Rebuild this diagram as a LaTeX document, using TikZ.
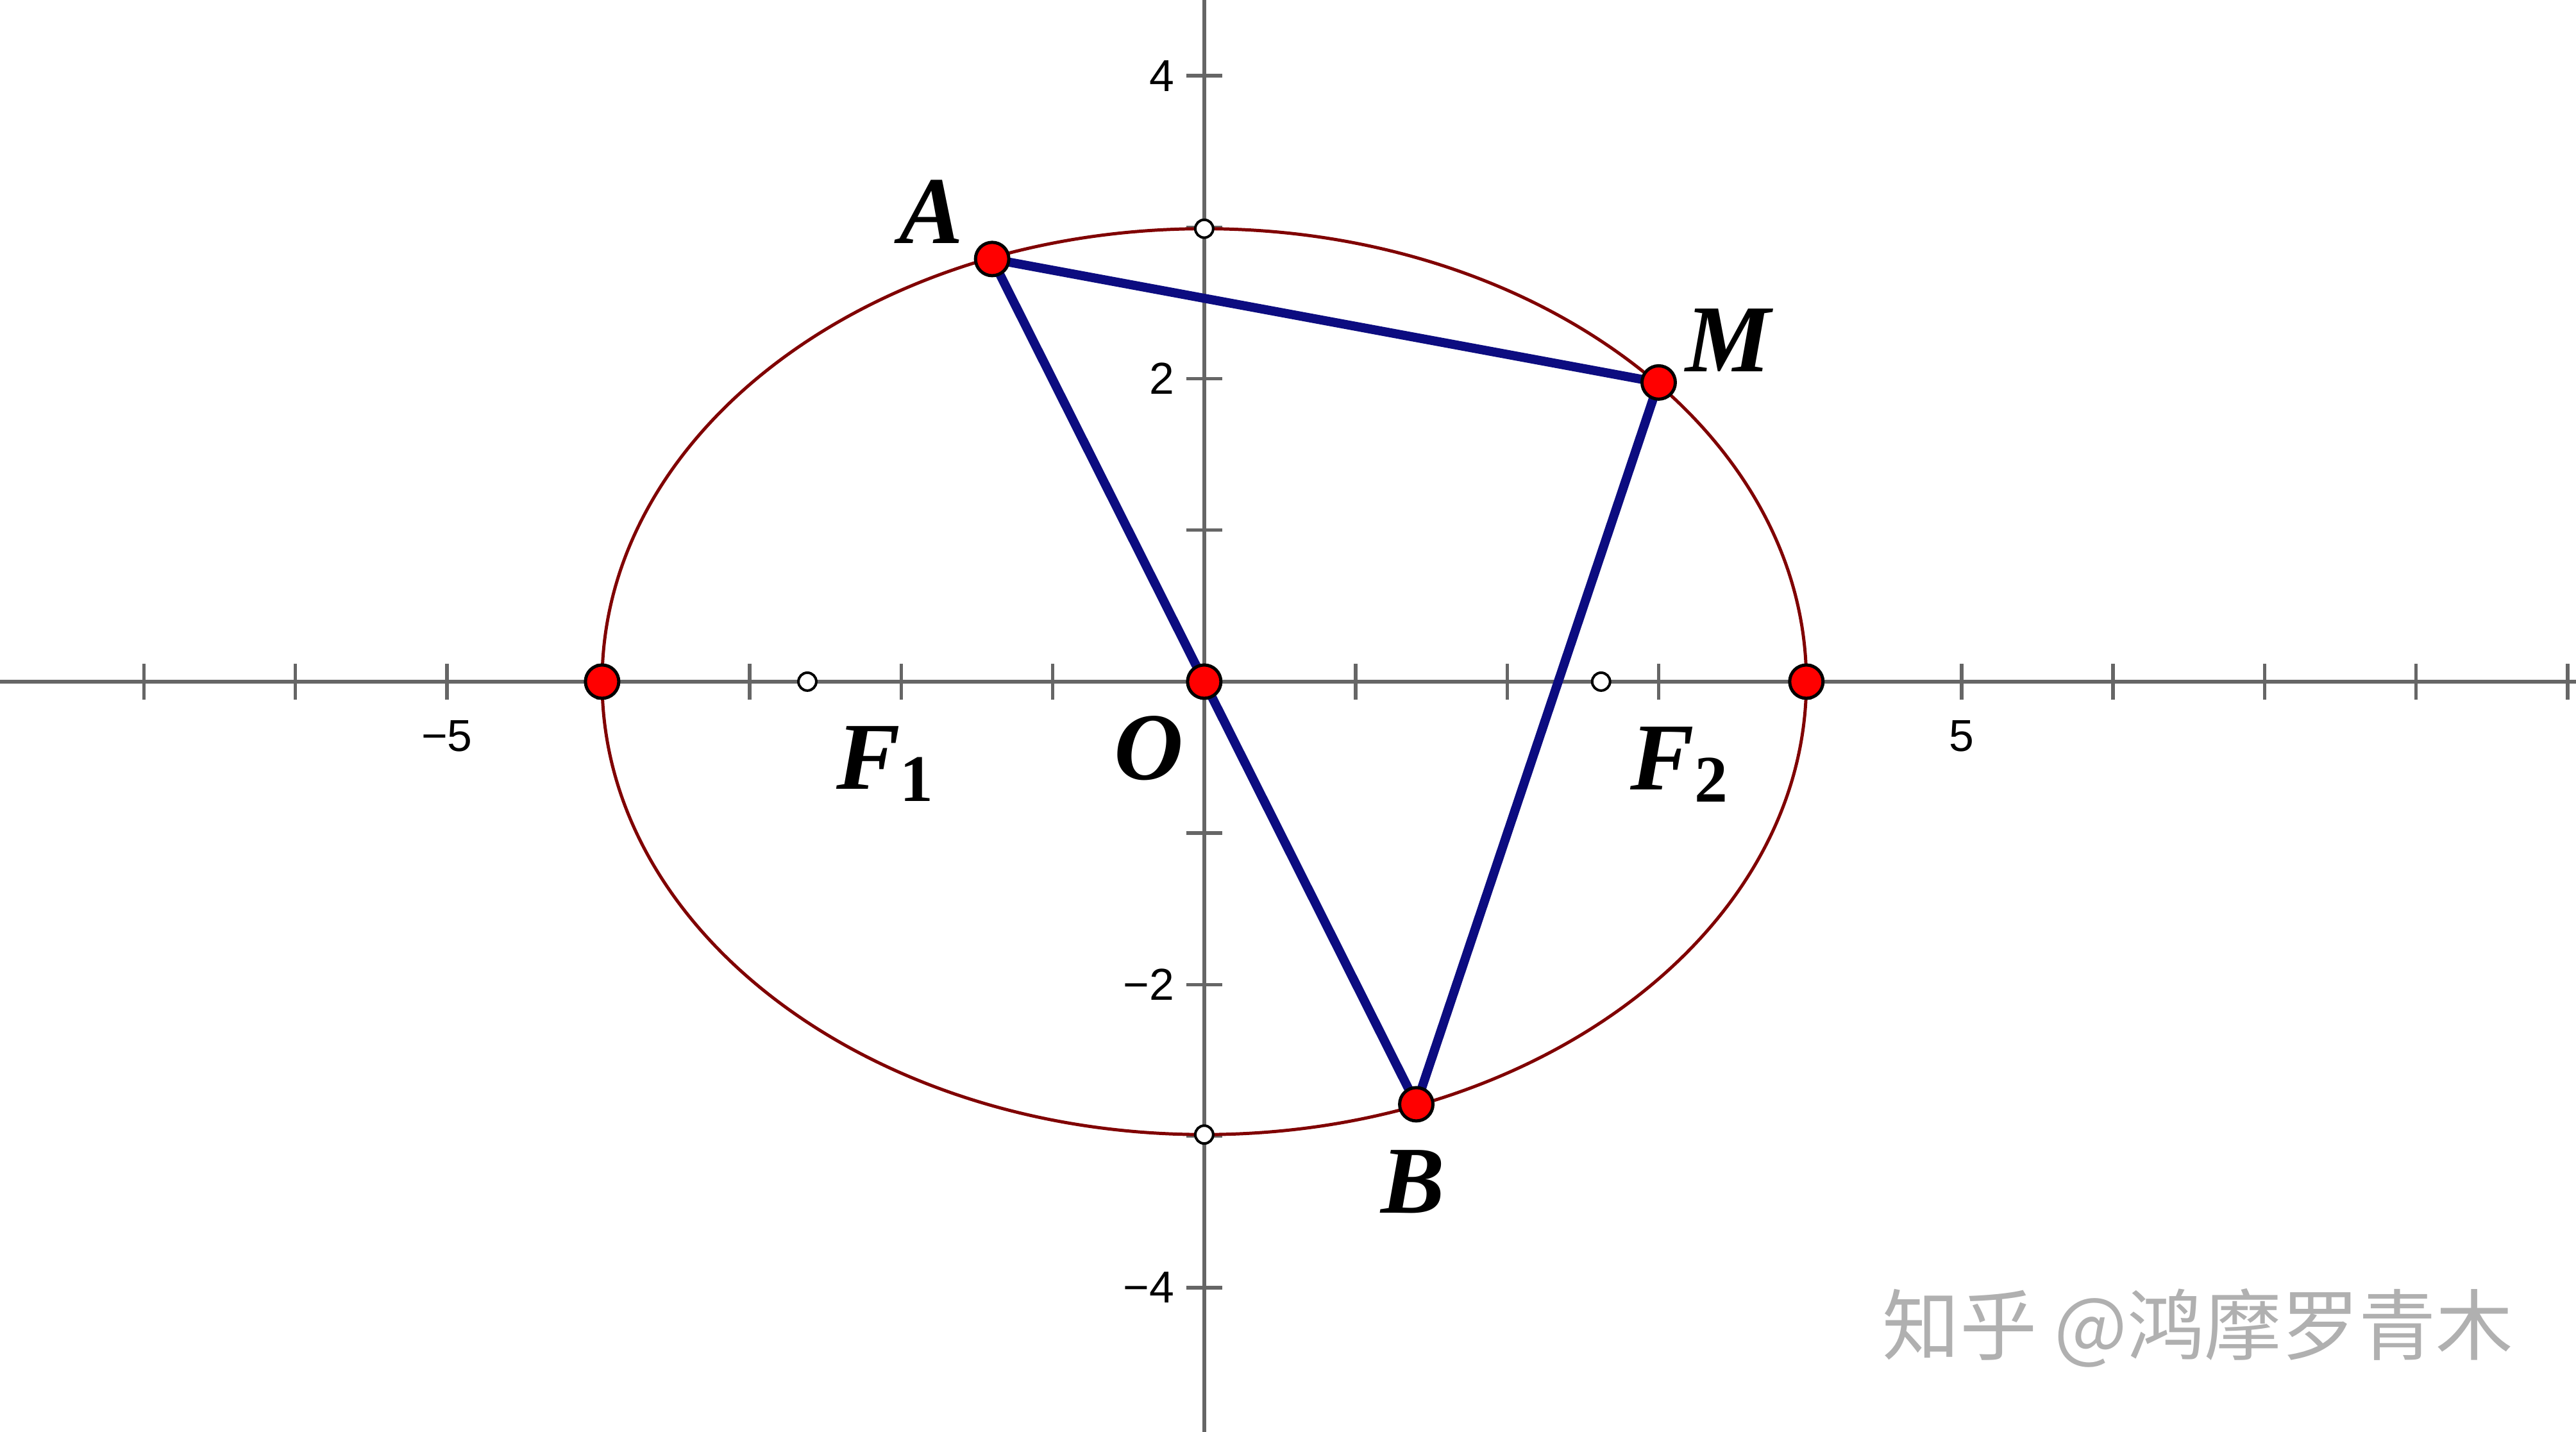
\documentclass[tikz,border=0pt]{standalone}
\usepackage{fontspec}
\setmainfont{Liberation Serif}
\setsansfont{Liberation Sans}
\newfontfamily\cjk{Noto Sans CJK SC}
\definecolor{axisgray}{RGB}{102,102,102}
\definecolor{ellred}{RGB}{128,0,0}
\definecolor{segblue}{RGB}{12,12,128}
\definecolor{markgray}{RGB}{176,176,176}
\tikzset{
  axisline/.style={draw=axisgray, line width=0.66pt},
  ellline/.style={draw=ellred, line width=0.6pt},
  segline/.style={draw=segblue, line width=1.7pt, line cap=round},
  redpt/.style={circle, inner sep=0pt, minimum size=0.22cm, fill=red, draw=black, line width=0.6pt},
  hollowpt/.style={circle, inner sep=0pt, minimum size=0.118cm, fill=white, draw=black, line width=0.48pt},
  ptlabel/.style={inner sep=0pt, font=\bfseries\itshape\fontsize{18}{20}\selectfont},
  ticklabel/.style={inner sep=0pt, font=\sffamily\fontsize{8.4}{10}\selectfont},
  wmark/.style={inner sep=0pt, text=markgray, font=\cjk\fontsize{14.5}{16}\selectfont}
}
\begin{document}
\begin{tikzpicture}[x=1cm,y=1cm]
\useasboundingbox (-7.95,-4.9535) rectangle (9.056,4.50);
\fill[white] (-7.95,-4.9535) rectangle (9.056,4.50);
% axes
\coordinate (xl) at (-7.95,0);
\coordinate (xr) at (9.056,0);
\coordinate (yb) at (0,-4.9535);
\coordinate (yt) at (0,4.50);
\draw[axisline] (xl) -- (xr);
\draw[axisline] (yb) -- (yt);
\foreach \x in {-7,...,-1,1,2,...,9} \draw[axisline] (\x,-0.12) -- (\x,0.12);
\foreach \y in {-4,...,-1,1,2,3,4} \draw[axisline] (-0.12,\y) -- (0.12,\y);
% tick labels
\node[ticklabel] (tm5) at (-5,-0.36) {−5};
\node[ticklabel] (tp5) at (5,-0.36) {5};
\node[ticklabel, anchor=east] (t4) at (-0.19,4) {4};
\node[ticklabel, anchor=east] (t2) at (-0.19,2) {2};
\node[ticklabel, anchor=east] (tm2) at (-0.19,-2) {−2};
\node[ticklabel, anchor=east] (tm4) at (-0.19,-4) {−4};
% ellipse
\draw[ellline] (0,0) ellipse [x radius=3.975, y radius=2.99];
% points
\coordinate (A) at (-1.40,2.79);
\coordinate (M) at (3,1.975);
\coordinate (B) at (1.40,-2.79);
\coordinate (O) at (0,0);
% segments
\draw[segline] (A) -- (M) -- (B) -- (O) -- (A);
% hollow points
\node[hollowpt] (F1p) at (-2.62,0) {};
\node[hollowpt] (F2p) at (2.62,0) {};
\node[hollowpt] (Ptop) at (0,2.99) {};
\node[hollowpt] (Pbot) at (0,-2.99) {};
% red points
\node[redpt] (pA) at (A) {};
\node[redpt] (pM) at (M) {};
\node[redpt] (pB) at (B) {};
\node[redpt] (pO) at (O) {};
\node[redpt] (pL) at (-3.975,0) {};
\node[redpt] (pR) at (3.975,0) {};
% labels
\node[ptlabel] (lA) at (-1.80,3.10) {A};
\node[ptlabel] (lM) at (3.459,2.252) {M};
\node[ptlabel] (lB) at (1.376,-3.302) {B};
\node[ptlabel] (lO) at (-0.365,-0.44) {O};
\node[ptlabel] (lF1) at (-2.108,-0.544) {F\raisebox{-2.3pt}{\upshape\fontsize{12.5}{14}\selectfont 1}};
\node[ptlabel] (lF2) at (3.136,-0.546) {F\raisebox{-2.3pt}{\upshape\fontsize{12.5}{14}\selectfont 2}};
% watermark
\node[wmark] (wm) at (6.56,-4.268) {知乎 @鸿摩罗青木};
\end{tikzpicture}
\end{document}
